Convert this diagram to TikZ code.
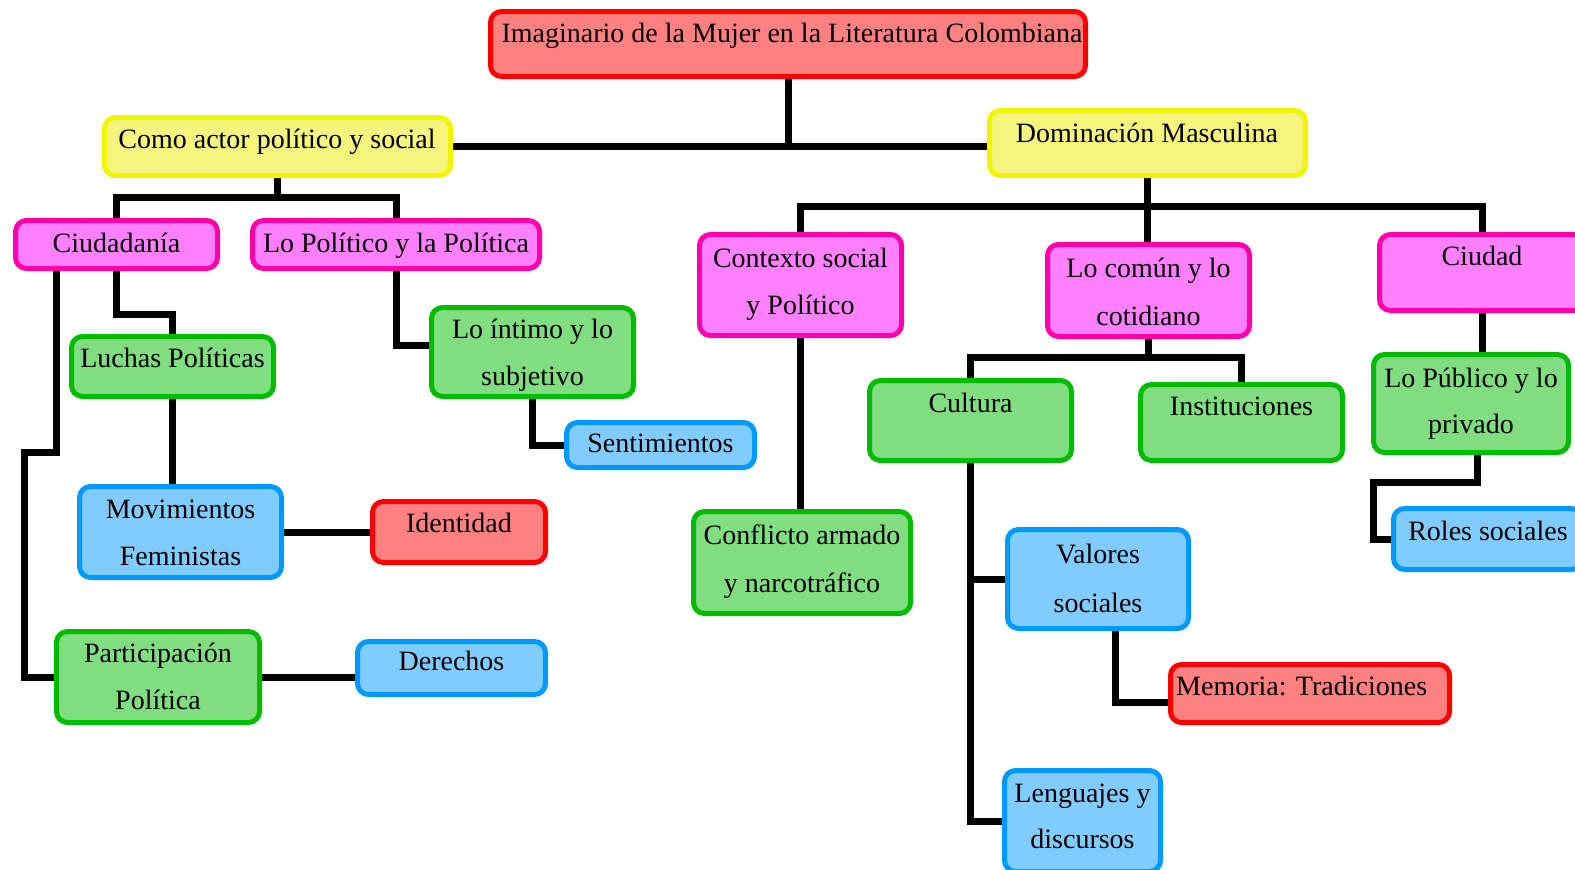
\documentclass[tikz,border=0pt]{standalone}
\usepackage{fontspec}
\setmainfont{Liberation Serif}
\usetikzlibrary{backgrounds}
\definecolor{rB}{RGB}{255,0,0}\definecolor{rF}{RGB}{255,128,128}
\definecolor{yB}{RGB}{240,245,0}\definecolor{yF}{RGB}{245,245,125}
\definecolor{mB}{RGB}{255,0,170}\definecolor{mF}{RGB}{255,128,255}
\definecolor{gB}{RGB}{0,187,0}\definecolor{gF}{RGB}{128,221,128}
\definecolor{bB}{RGB}{0,153,255}\definecolor{bF}{RGB}{128,204,255}
\newcommand\myfs{\fontsize{28}{34}\selectfont}
\tikzset{
  box/.style={rounded corners=11pt, line width=5pt, inner sep=0pt},
  redbox/.style={box, draw=rB, fill=rF},
  yelbox/.style={box, draw=yB, fill=yF},
  magbox/.style={box, draw=mB, fill=mF},
  grnbox/.style={box, draw=gB, fill=gF},
  blubox/.style={box, draw=bB, fill=bF},
  txt/.style={anchor=base, inner sep=0pt, font=\myfs},
  link/.style={line width=7pt, draw=black}
}
\begin{document}
\begin{tikzpicture}[x=1pt,y=-1pt]
\useasboundingbox (0,0) rectangle (1575,870);
\clip (0,0) rectangle (1575,870);
% boxes
\node[redbox, minimum width=595pt, minimum height=65pt] (title) at (788,44) {};
\node[yelbox, minimum width=346pt, minimum height=58pt] (como) at (277.5,146.5) {};
\node[yelbox, minimum width=316pt, minimum height=65pt] (dom) at (1147.5,143) {};
\node[magbox, minimum width=202pt, minimum height=48pt] (ciu) at (116.5,244.5) {};
\node[magbox, minimum width=287pt, minimum height=48pt] (lop) at (396,244.5) {};
\node[magbox, minimum width=202pt, minimum height=101pt] (ctx) at (800.5,285) {};
\node[magbox, minimum width=202pt, minimum height=92pt] (com) at (1148.5,290.5) {};
\node[magbox, minimum width=205pt, minimum height=76pt] (ciud) at (1482,272.5) {};
\node[grnbox, minimum width=202pt, minimum height=60pt] (luc) at (172.5,366.5) {};
\node[grnbox, minimum width=202pt, minimum height=89pt] (int) at (532.5,352) {};
\node[blubox, minimum width=188pt, minimum height=45pt] (sen) at (660.5,445) {};
\node[blubox, minimum width=202pt, minimum height=91pt] (mov) at (180.5,532) {};
\node[redbox, minimum width=173pt, minimum height=61pt] (ide) at (459,532) {};
\node[grnbox, minimum width=203pt, minimum height=91pt] (par) at (158,677) {};
\node[blubox, minimum width=188pt, minimum height=53pt] (der) at (451.5,668) {};
\node[grnbox, minimum width=217pt, minimum height=102pt] (con) at (802,562.5) {};
\node[grnbox, minimum width=202pt, minimum height=80pt] (cul) at (970.5,420.5) {};
\node[grnbox, minimum width=202pt, minimum height=76pt] (ins) at (1241.5,422.5) {};
\node[grnbox, minimum width=195pt, minimum height=98pt] (pub) at (1471,403.5) {};
\node[blubox, minimum width=189pt, minimum height=61pt] (rol) at (1488,539) {};
\node[blubox, minimum width=181pt, minimum height=99pt] (val) at (1098,579) {};
\node[redbox, minimum width=279pt, minimum height=58pt] (mem) at (1310,693.5) {};
\node[blubox, minimum width=156pt, minimum height=101pt] (len) at (1082.5,821) {};
% texts
\node[txt] (t-title) at (792,42) {Imaginario de la Mujer en la Literatura Colombiana};
\node[txt] (t-como) at (277,148) {Como actor político y social};
\node[txt] (t-dom) at (1147,142) {Dominación Masculina};
\node[txt] (t-ciu) at (116.5,252) {Ciudadanía};
\node[txt] (t-lop) at (396,252) {Lo Político y la Política};
\node[txt] (t-ctx1) at (800.5,267) {Contexto social};
\node[txt] (t-ctx2) at (800.5,314) {y Político};
\node[txt] (t-com1) at (1148.5,277) {Lo común y lo};
\node[txt] (t-com2) at (1148.5,325) {cotidiano};
\node[txt] (t-ciud) at (1482,265) {Ciudad};
\node[txt] (t-luc) at (172.5,367) {Luchas Políticas};
\node[txt] (t-int1) at (532.5,338) {Lo íntimo y lo};
\node[txt] (t-int2) at (532.5,385) {subjetivo};
\node[txt] (t-sen) at (660.5,452) {Sentimientos};
\node[txt] (t-mov1) at (180.5,518) {Movimientos};
\node[txt] (t-mov2) at (180.5,565) {Feministas};
\node[txt] (t-ide) at (459,532) {Identidad};
\node[txt] (t-par1) at (158,662) {Participación};
\node[txt] (t-par2) at (158,709) {Política};
\node[txt] (t-der) at (451.5,670) {Derechos};
\node[txt] (t-con1) at (802,544) {Conflicto armado};
\node[txt] (t-con2) at (802,592) {y narcotráfico};
\node[txt] (t-cul) at (970.5,412) {Cultura};
\node[txt] (t-ins) at (1241.5,415) {Instituciones};
\node[txt] (t-pub1) at (1471,387) {Lo Público y lo};
\node[txt] (t-pub2) at (1471,433) {privado};
\node[txt] (t-rol) at (1488,540) {Roles sociales};
\node[txt] (t-val1) at (1098,563) {Valores};
\node[txt] (t-val2) at (1098,612) {sociales};
\node[txt, anchor=base west] (t-mem) at (1176,695) {Memoria: Tradiciones};
\node[txt] (t-len1) at (1082.5,802) {Lenguajes y};
\node[txt] (t-len2) at (1082.5,848) {discursos};
% connectors
\begin{pgfonlayer}{background}
\draw[link] (title.south) -- (title.south |- como.east);
\draw[link] (como.east) -- (dom.west |- como.east);
\coordinate (j1) at (277.5,197);
\draw[link] (como.south) -- (j1);
\draw[link] (ciu.north) |- (j1) -| (lop.north);
\coordinate (j2) at (1147.5,206);
\draw[link] (dom.south) -- (j2);
\draw[link] (ctx.north) |- (j2) -| (ciud.north);
\draw[link] (j2) -- (j2 |- com.north);
\draw[link] (ciu.south) -- ++(0,43) -| (luc.north);
\draw[link] ([xshift=-60pt]ciu.south) -- ++(0,181) -- ++(-32,0) |- (par.west);
\draw[link] (luc.south) -- (luc.south |- mov.north);
\draw[link] (mov.east) -- (ide.west);
\draw[link] (par.east) -- (par.east -| der.west);
\draw[link] (lop.south) |- ([yshift=7pt]int.west);
\draw[link] (int.south) |- (sen.west);
\draw[link] (ctx.south) -- (ctx.south |- con.north);
\coordinate (j3) at (1148.5,357);
\draw[link] (com.south) -- (j3);
\draw[link] (cul.north) |- (j3) -| (ins.north);
\draw[link] (ciud.south) -- (ciud.south |- pub.north);
\draw[link] ([xshift=6pt]pub.south) -- ++(0,27) -- ++(-104,0) |- (rol.west);
\draw[link] (cul.south) |- (len.west);
\draw[link] (cul.south |- val.west) -- (val.west);
\draw[link] ([xshift=17pt]val.south) |- ([yshift=-8.5pt]mem.west);
\end{pgfonlayer}
\end{tikzpicture}
\end{document}
